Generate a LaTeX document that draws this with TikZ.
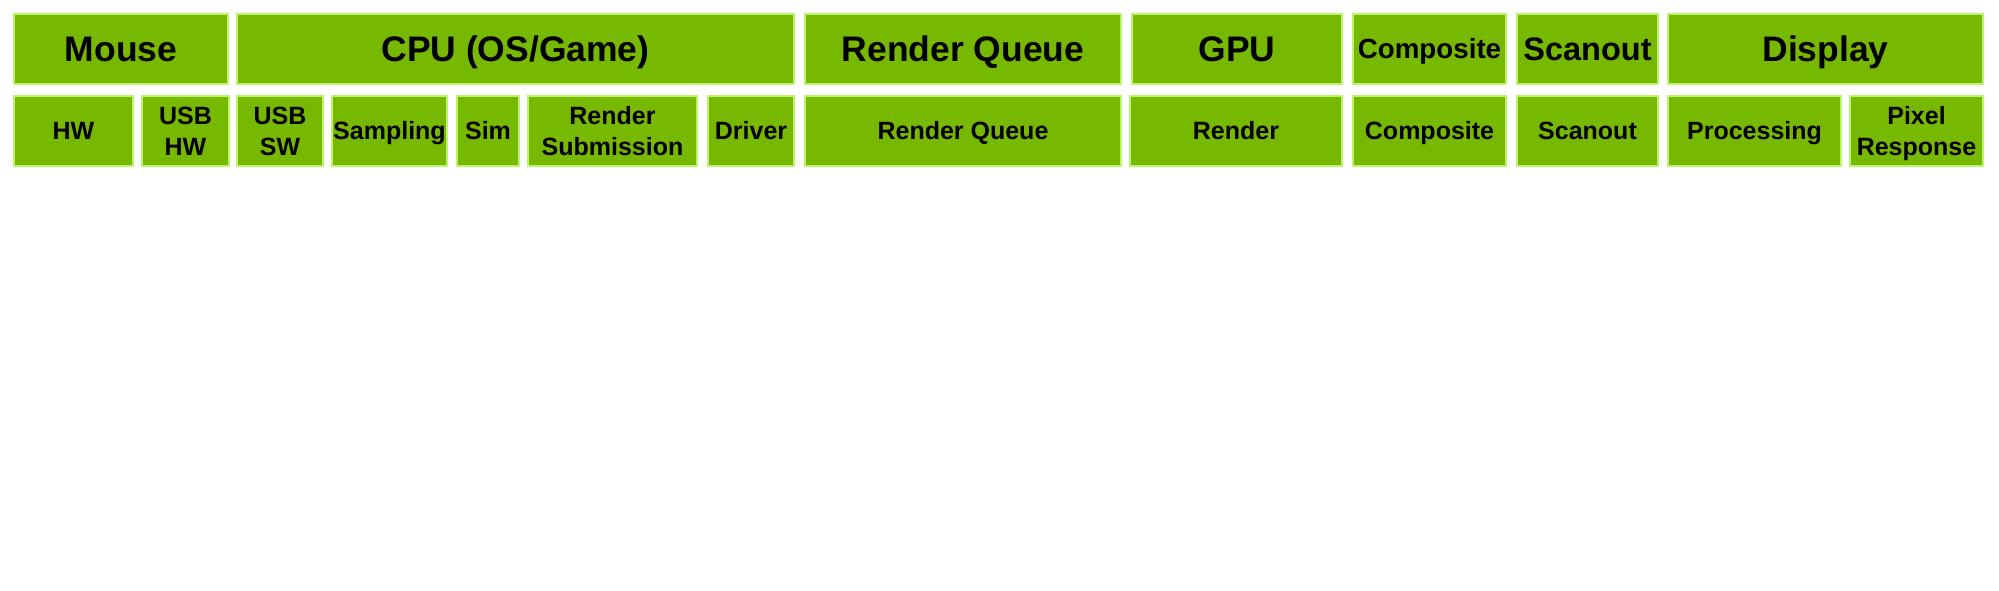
\documentclass[tikz,border=0pt]{standalone}
\usepackage{fontspec}
\setmainfont{Liberation Sans}
\usepackage{tikz}
\usetikzlibrary{positioning}

\definecolor{nvgreen}{HTML}{76B900}
\definecolor{nvlime}{HTML}{BDF46E}

\begin{document}
\begin{tikzpicture}[x=0.75pt,y=-0.75pt,semithick]
  \tikzstyle{every node}=[draw=nvlime,fill=nvgreen,line width=1.5pt,inner sep=0pt,align=center,text=black,text depth=0pt]
  \tikzstyle{phase}=[minimum height=52.5pt,text height=19.05pt,font=\fontsize{26.6}{32}\selectfont\bfseries]
  \tikzstyle{substage}=[minimum height=52.5pt,text height=13.43pt,font=\fontsize{18.75}{23.25}\selectfont\bfseries]
  \tikzstyle{twoline}=[text height=36.68pt]

  \useasboundingbox (0,0) rectangle (1999,591);

  %--- Top row: pipeline phases ---
  \node[phase, minimum width=160.5pt]  (mouse) at (121,49)    {Mouse};
  \node[phase, minimum width=417.75pt] (cpu)   at (515.5,49)  {CPU (OS/Game)};
  \node[phase, minimum width=237pt]    (rq)    at (963,49)    {Render Queue};
  \node[phase, minimum width=157.5pt]  (gpu)   at (1237,49)   {GPU};
  \node[phase, minimum width=114.75pt, text height=14.9pt, font=\fontsize{20.8}{25}\selectfont\bfseries]
                                       (comp)  at (1429.5,49) {Composite};
  \node[phase, minimum width=105.75pt, text height=17.47pt, font=\fontsize{24.4}{29}\selectfont\bfseries]
                                       (scan)  at (1587.5,49) {Scanout};
  \node[phase, minimum width=236.25pt] (disp)  at (1825.5,49) {Display};

  %--- Bottom row: stages ---
  \node[substage, minimum width=89.25pt]           (hw)     at (73.5,131)   {HW};
  \node[substage, twoline, minimum width=65.25pt]  (usbhw)  at (185.5,131)  {USB\\HW};
  \node[substage, twoline, minimum width=64.5pt]   (usbsw)  at (280,131)    {USB\\SW};
  \node[substage, minimum width=86.25pt]           (samp)   at (389.5,131)  {Sampling};
  \node[substage, minimum width=46.5pt]            (sim)    at (488,131)    {Sim};
  \node[substage, twoline, minimum width=126.75pt] (submit) at (612.5,131)  {Render\\Submission};
  \node[substage, minimum width=64.5pt]            (drv)    at (751,131)    {Driver};
  \node[substage, minimum width=237pt]             (queue)  at (963,131)    {Render Queue};
  \node[substage, minimum width=159pt]             (rend)   at (1236,131)   {Render};
  \node[substage, minimum width=114.75pt]          (comp2)  at (1429.5,131) {Composite};
  \node[substage, minimum width=105.75pt]          (scan2)  at (1587.5,131) {Scanout};
  \node[substage, minimum width=129.75pt]          (proc)   at (1754.5,131) {Processing};
  \node[substage, twoline, minimum width=99.75pt]  (pixel)  at (1916.5,131) {Pixel\\Response};
\end{tikzpicture}
\end{document}
